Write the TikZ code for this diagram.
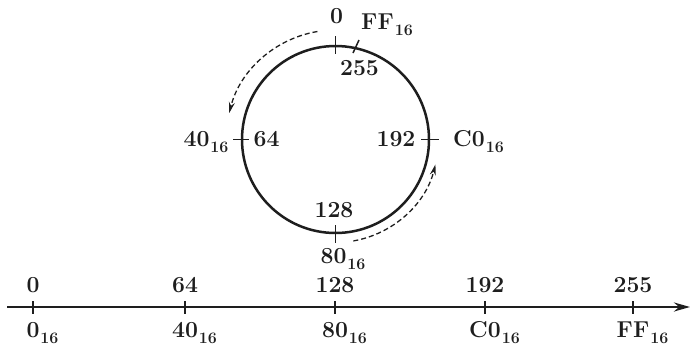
\documentclass[tikz,border=0pt]{standalone}
\usetikzlibrary{arrows.meta}
\definecolor{ink}{HTML}{1E1E1E}
\newcommand\hexsub[1]{\rlap{\kern1pt\raisebox{-6pt}{\fontsize{16}{16}\selectfont #1}}}
\begin{document}
\begin{tikzpicture}[x=1pt,y=-1pt,
  lbl/.style={inner sep=0pt, anchor=base, text=ink, font=\fontsize{23}{25}\selectfont\bfseries},
  tickline/.style={draw=ink, line width=1.5pt},
  dasharrow/.style={draw=ink, line width=1.3pt, dash pattern=on 5pt off 3pt, -{Stealth[length=11pt,width=6pt]}}]
\useasboundingbox (0,0) rectangle (690,346);
% circle
\coordinate (o) at (335.5,139.5);
\draw[draw=ink, line width=2.5pt] (o) circle[radius=93.5];
% circle ticks
\draw[tickline] (335.5,36) -- (335.5,54);
\draw[tickline] (353,53) -- (359,40);
\draw[tickline] (233,139.5) -- (249,139.5);
\draw[tickline] (421,139.5) -- (439,139.5);
\draw[tickline] (335.5,225) -- (335.5,243);
% circle labels
\node[lbl] (c0) at (336.5,23) {0};
\node[lbl] (cff) at (377.5,29) {FF\hexsub{16}};
\node[lbl] (c255) at (359.5,75) {255};
\node[lbl] (c40) at (196.5,146) {40\hexsub{16}};
\node[lbl] (c64) at (266.5,146) {64};
\node[lbl] (c192) at (396,146) {192};
\node[lbl] (cc0) at (469,146) {C0\hexsub{16}};
\node[lbl] (c128) at (334,217) {128};
\node[lbl] (c80) at (333.5,263) {80\hexsub{16}};
% dashed arrows
\draw[dasharrow] (o) ++(-99.5:109.5) arc[start angle=-99.5, end angle=-166, radius=109.5];
\draw[dasharrow] (o) ++(80:103) arc[start angle=80, end angle=14, radius=103];
% number line
\coordinate (axs) at (7,307);
\coordinate (axe) at (690,307);
\draw[draw=ink, line width=2.6pt, -{Stealth[length=16pt,width=9pt]}] (axs) -- (axe);
\foreach \x/\d/\h [count=\i] in {33/0/0, 185/64/40, 335/128/80, 485/192/C0, 633/255/FF}{
  \draw[tickline] (\x,301) -- (\x,314);
  \node[lbl] (t\i) at (\x,292) {\d};
  \node[lbl] (b\i) at (\x,337) {\h\hexsub{16}};
}
\end{tikzpicture}
\end{document}
